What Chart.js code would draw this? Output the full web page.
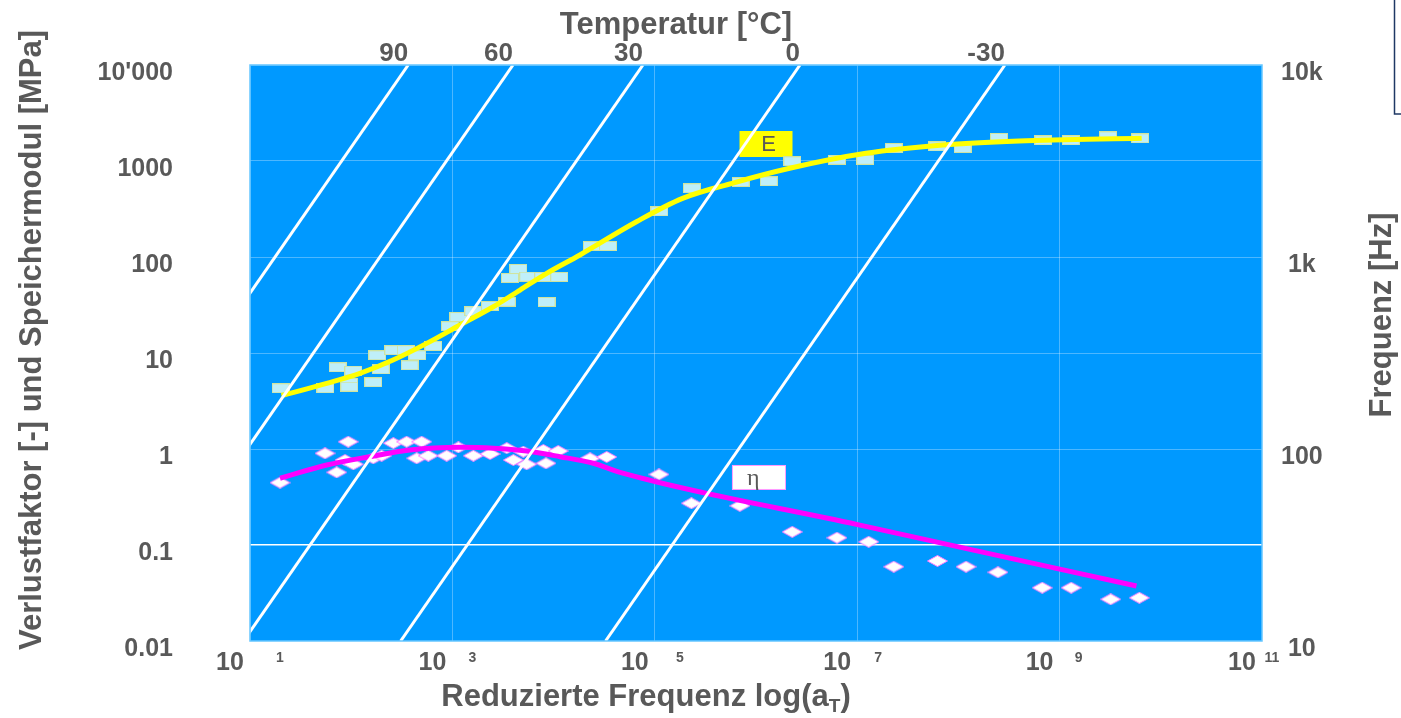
<!DOCTYPE html>
<html>
<head>
<meta charset="utf-8">
<title>Verlustfaktor und Speichermodul</title>
<script src="https://cdn.jsdelivr.net/npm/chart.js"></script>
<style>
html, body { margin: 0; padding: 0; background: #fff; }
#wrap { width: 1401px; height: 718px; position: relative; }
</style>
</head>
<body>
<div id="wrap"><canvas id="chart"></canvas></div>
<script>
// axes
const xTicks = [1e1, 1e3, 1e5, 1e7, 1e9, 1e11];
const xTickExp = ['1', '3', '5', '7', '9', '11'];
const yTicks = [0.01, 0.1, 1, 10, 100, 1000, 10000];
const yTickLabels = ['0.01', '0.1', '1', '10', '100', '1000', "10'000"];
const freqTicks = [10, 100, 1000, 10000];
const freqTickLabels = ['10', '100', '1k', '10k'];

// isothermen (Temperatur [°C])
const isoTemps = ['90', '60', '30', '0', '-30'];
const isoTopX = [366, 3970, 76400, 2.72e6, 2.88e8];
const isoBottomX = [0.0411, 0.449, 8.63, 308, 32600];
const isoTopY = 10000;
const isoBottomY = 0.01;

// Speichermodul E [MPa] - messpunkte
const eX = [20.1, 73.6, 55.5, 105, 95.1, 95.7, 181, 196, 165, 261, 346, 450, 378, 647, 946, 1144, 1610, 2355, 3444,
  4480, 3705, 5620, 7910, 11380, 8510, 23900, 34500, 1.11e5, 2.33e5, 7.05e5, 1.34e6, 2.29e6, 6.31e6, 1.2e7, 2.3e7,
  6.21e7, 1.1e8, 2.52e8, 6.92e8, 1.29e9, 3.01e9, 6.25e9];
const eY = [4.29, 7.1, 4.29, 6.54, 4.91, 4.46, 9.47, 6.76, 4.96, 10.7, 10.7, 9.47, 7.45, 11.8, 19, 23.7, 27.2, 30.9, 34.2,
  75, 60.4, 62.4, 61.9, 61.9, 34, 130, 130, 299, 520, 604, 615, 993, 1030, 1030, 1365,
  1422, 1365, 1738, 1644, 1644, 1807, 1722];
// E - ausgleichskurve
const eCurveX = [20.5, 57.3, 122, 259, 557, 1189, 2535, 4660, 8550, 18200, 65900, 188000, 580000, 2.15e6, 1.22e7, 7.0e7, 3.97e8, 6.47e9];
const eCurveY = [3.59, 4.83, 6.14, 8.45, 12.6, 19.6, 30.3, 45.3, 67.6, 105, 233, 408, 586, 840, 1202, 1468, 1614, 1722];

// Verlustfaktor eta - messpunkte
const etaX = [19.8, 55.1, 93.5, 71.9, 86.9, 105, 165, 200, 261, 353, 497, 444, 578, 879, 1144, 1610, 2355, 3444, 4000,
  5420, 5020, 7910, 8410, 11100, 22900, 33500, 1.1e5, 2.3e5, 6.92e5, 2.28e6, 6.31e6, 1.3e7, 2.3e7, 6.21e7, 1.19e8,
  2.46e8, 6.73e8, 1.3e9, 3.2e9, 6.14e9];
const etaY = [0.446, 0.901, 1.19, 0.571, 0.767, 0.693, 0.8, 0.851, 1.15, 1.19, 1.19, 0.8, 0.851, 0.851, 1.04, 0.851, 0.888, 1.02, 0.767,
  0.693, 0.937, 0.977, 0.71, 0.953, 0.8, 0.826, 0.544, 0.272, 0.256, 0.137, 0.119, 0.108, 0.0594, 0.0682, 0.0594,
  0.052, 0.0359, 0.0359, 0.0272, 0.0282];
// eta - ausgleichskurve
const etaCurveX = [19.8, 57.3, 153, 381, 1189, 2535, 5420, 11560, 24700, 45300, 1.01e7, 5.75e9];
const etaCurveY = [0.496, 0.681, 0.832, 0.977, 1.04, 1.02, 0.953, 0.832, 0.71, 0.571, 0.163, 0.0374];

// kurvenbeschriftung (x, y)
const eLabelPos = [1.27e6, 1503];
const etaLabelPos = [1.07e6, 0.505];

const GRAY = '#595959';
const FONT = '"Liberation Sans", Arial, sans-serif';
// horizontaler versatz der exponenten zum tick (px)
const EXP_SHIFT = [30, 20, 25, 21, 19, 10];

function toPoints(xs, ys) {
  let pts = [];
  for (let i = 0; i < xs.length; i++) pts.push({x: xs[i], y: ys[i]});
  return pts;
}

function makeRect() {
  let c = document.createElement('canvas');
  c.width = 18; c.height = 10;
  let g = c.getContext('2d');
  g.fillStyle = '#bfeff9';
  g.fillRect(0, 0, 18, 10);
  g.strokeStyle = '#cfe4a0';
  g.lineWidth = 1;
  g.strokeRect(0.5, 0.5, 17, 9);
  return c;
}

function makeDiamond() {
  let c = document.createElement('canvas');
  c.width = 21; c.height = 12;
  let g = c.getContext('2d');
  g.beginPath();
  g.moveTo(10.5, 0.5); g.lineTo(20.5, 6); g.lineTo(10.5, 11.5); g.lineTo(0.5, 6);
  g.closePath();
  g.fillStyle = '#ffffff';
  g.fill();
  g.strokeStyle = '#ff7cff';
  g.lineWidth = 1;
  g.stroke();
  return c;
}

// feste achsenmasse, ohne zusatzabstand fuer labels
function fixSize(w, h) {
  return function (s) {
    if (w !== null) s.width = w;
    if (h !== null) s.height = h;
    s.paddingTop = 0; s.paddingBottom = 0;
    s.paddingLeft = 0; s.paddingRight = 0;
  };
}

let datasets = [];
for (let i = 0; i < isoTemps.length; i++) {
  datasets.push({
    label: isoTemps[i] + ' °C',
    data: [{x: isoBottomX[i], y: isoBottomY}, {x: isoTopX[i], y: isoTopY}],
    showLine: true,
    borderColor: '#ffffff',
    borderWidth: 3,
    pointRadius: 0,
    order: 0
  });
}
datasets.push({
  label: 'E curve',
  data: toPoints(eCurveX, eCurveY),
  showLine: true,
  borderColor: '#ffff00',
  borderWidth: 5,
  cubicInterpolationMode: 'monotone',
  pointRadius: 0,
  order: 1
});
datasets.push({
  label: 'eta curve',
  data: toPoints(etaCurveX, etaCurveY),
  showLine: true,
  borderColor: '#ff00ff',
  borderWidth: 5,
  cubicInterpolationMode: 'monotone',
  pointRadius: 0,
  order: 1
});
datasets.push({
  label: 'E',
  data: toPoints(eX, eY),
  showLine: false,
  pointStyle: makeRect(),
  pointRadius: 5,
  order: 2
});
datasets.push({
  label: 'eta',
  data: toPoints(etaX, etaY),
  showLine: false,
  pointStyle: makeDiamond(),
  pointRadius: 5,
  order: 2
});

// hintergrund, beschriftungen, titel
const deco = {
  id: 'deco',
  beforeDraw(chart) {
    let ctx = chart.ctx, a = chart.chartArea;
    ctx.save();
    ctx.fillStyle = '#0099ff';
    ctx.fillRect(a.left, a.top, a.right - a.left, a.bottom - a.top);
    ctx.restore();
  },
  beforeDatasetsDraw(chart) {
    let ctx = chart.ctx, sx = chart.scales.x, sy = chart.scales.y;
    ctx.save();
    // E label
    let ex = sx.getPixelForValue(eLabelPos[0]), ey = sy.getPixelForValue(eLabelPos[1]);
    ctx.fillStyle = '#ffff00';
    ctx.fillRect(ex - 27, ey - 13, 53, 26);
    ctx.fillStyle = GRAY;
    ctx.font = '22px ' + FONT;
    ctx.textAlign = 'center';
    ctx.textBaseline = 'middle';
    ctx.fillText('E', ex + 2, ey + 1);
    // eta label
    let hx = sx.getPixelForValue(etaLabelPos[0]), hy = sy.getPixelForValue(etaLabelPos[1]);
    ctx.fillStyle = '#ffffff';
    ctx.fillRect(hx - 27, hy - 12.5, 54, 25);
    ctx.strokeStyle = '#ff99ff';
    ctx.lineWidth = 1;
    ctx.strokeRect(hx - 26.5, hy - 12, 53, 24);
    ctx.fillStyle = GRAY;
    ctx.font = '24px "Liberation Serif", "DejaVu Serif", serif';
    ctx.textAlign = 'left';
    ctx.fillText('η', hx - 12, hy + 1);
    ctx.restore();
  },
  afterDraw(chart) {
    let ctx = chart.ctx, a = chart.chartArea, sx = chart.scales.x;
    ctx.save();
    ctx.strokeStyle = '#66c6ff';
    ctx.lineWidth = 1.5;
    ctx.strokeRect(a.left, a.top, a.right - a.left, a.bottom - a.top);

    // exponenten der x-achse
    ctx.fillStyle = GRAY;
    ctx.font = 'bold 14px ' + FONT;
    ctx.textAlign = 'center';
    ctx.textBaseline = 'middle';
    for (let i = 0; i < xTicks.length; i++) {
      ctx.fillText(xTickExp[i], sx.getPixelForValue(xTicks[i]) + EXP_SHIFT[i], 658);
    }

    // titel
    ctx.font = 'bold 31px ' + FONT;
    ctx.fillText('Temperatur [°C]', 676, 25);

    let p1 = 'Reduzierte Frequenz log(a', p2 = 'T', p3 = ')';
    let w1 = ctx.measureText(p1).width;
    let w3 = ctx.measureText(p3).width;
    ctx.font = 'bold 19px ' + FONT;
    let w2 = ctx.measureText(p2).width;
    let start = 646 - (w1 + w2 + w3) / 2;
    ctx.textAlign = 'left';
    ctx.fillText(p2, start + w1, 707);
    ctx.font = 'bold 31px ' + FONT;
    ctx.fillText(p1, start, 697);
    ctx.fillText(p3, start + w1 + w2, 697);

    ctx.textAlign = 'center';
    ctx.save();
    ctx.translate(32, 340);
    ctx.rotate(-Math.PI / 2);
    ctx.fillText('Verlustfaktor [-] und Speichermodul [MPa]', 0, 0);
    ctx.restore();
    ctx.save();
    ctx.translate(1382, 315);
    ctx.rotate(-Math.PI / 2);
    ctx.fillText('Frequenz [Hz]', 0, 0);
    ctx.restore();

    // angeschnittener rahmen oben rechts
    ctx.strokeStyle = '#1f3864';
    ctx.lineWidth = 1.5;
    ctx.beginPath();
    ctx.moveTo(1394.5, 0);
    ctx.lineTo(1394.5, 114);
    ctx.lineTo(1401, 114);
    ctx.stroke();
    ctx.restore();
  }
};

Chart.defaults.font.family = FONT;
Chart.defaults.color = GRAY;

new Chart(document.getElementById('chart'), {
  type: 'scatter',
  data: {datasets: datasets},
  options: {
    responsive: true,
    maintainAspectRatio: false,
    animation: false,
    layout: {padding: 0},
    plugins: {legend: {display: false}, tooltip: {enabled: false}},
    scales: {
      x: {
        type: 'logarithmic',
        position: 'bottom',
        min: 10,
        max: 1e11,
        afterBuildTicks: function (s) { s.ticks = xTicks.map(v => ({value: v})); },
        afterFit: fixSize(null, 77),
        grid: {color: 'rgba(255,255,255,0.3)', lineWidth: 1, drawTicks: false},
        border: {display: false},
        ticks: {
          callback: function () { return '10'; },
          font: {size: 25, weight: 'bold', lineHeight: 1},
          color: GRAY,
          labelOffset: -20,
          padding: 10,
          autoSkip: false,
          maxRotation: 0
        }
      },
      x2: {
        type: 'logarithmic',
        position: 'top',
        min: 10,
        max: 1e11,
        afterBuildTicks: function (s) { s.ticks = isoTopX.map(v => ({value: v})); },
        afterFit: fixSize(null, 65),
        grid: {display: false, drawTicks: false},
        border: {display: false},
        ticks: {
          callback: function (v, i) { return isoTemps[i]; },
          font: {size: 26, weight: 'bold', lineHeight: 1},
          color: GRAY,
          align: 'end',
          padding: -2,
          autoSkip: false,
          maxRotation: 0
        }
      },
      y: {
        type: 'logarithmic',
        position: 'left',
        min: 0.01,
        max: 10000,
        afterBuildTicks: function (s) { s.ticks = yTicks.map(v => ({value: v})); },
        afterFit: fixSize(250, null),
        grid: {
          color: function (c) { return (c.tick && c.tick.value === 0.1) ? '#ffffff' : 'rgba(255,255,255,0.3)'; },
          lineWidth: function (c) { return (c.tick && c.tick.value === 0.1) ? 1.5 : 1; },
          drawTicks: false
        },
        border: {display: false},
        ticks: {
          callback: function (v, i) { return yTickLabels[i]; },
          font: {size: 25, weight: 'bold'},
          color: GRAY,
          padding: 77,
          labelOffset: 8
        }
      },
      y2: {
        type: 'logarithmic',
        position: 'right',
        min: 10,
        max: 10000,
        afterBuildTicks: function (s) { s.ticks = freqTicks.map(v => ({value: v})); },
        afterFit: fixSize(139, null),
        grid: {display: false, drawTicks: false},
        border: {display: false},
        ticks: {
          callback: function (v, i) { return freqTickLabels[i]; },
          font: {size: 25, weight: 'bold'},
          color: GRAY,
          crossAlign: 'center',
          padding: 19,
          labelOffset: 8
        }
      }
    }
  },
  plugins: [deco]
});
</script>
</body>
</html>
